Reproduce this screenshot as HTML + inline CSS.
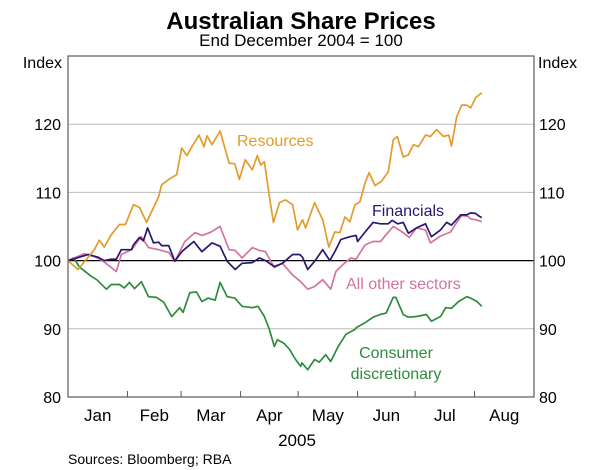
<!DOCTYPE html>
<html><head><meta charset="utf-8"><style>
html,body{margin:0;padding:0;background:#fff;}
svg{display:block;font-family:"Liberation Sans",Arial,sans-serif;}
</style></head><body>
<svg id="chart" width="600" height="470" viewBox="0 0 600 470">
<text x="301" y="29" text-anchor="middle" font-size="24" font-weight="bold">Australian Share Prices</text>
<text x="301" y="46" text-anchor="middle" font-size="17">End December 2004 = 100</text>
<text x="62" y="68" text-anchor="end" font-size="16">Index</text>
<text x="538" y="68" font-size="16">Index</text>
<g id="grid"></g>
<g id="axes"></g>
<g id="series"></g>
<rect x="68" y="56" width="466" height="341" fill="none" stroke="#666" stroke-width="1.3"/>
<text x="237" y="146" font-size="16" fill="#e39b2b">Resources</text>
<text x="372" y="216" font-size="16" fill="#2a1670">Financials</text>
<text x="346" y="289" font-size="16" fill="#d4739f">All other sectors</text>
<text x="396" y="358" text-anchor="middle" font-size="16" fill="#2e8b3e">Consumer</text>
<text x="396" y="379" text-anchor="middle" font-size="16" fill="#2e8b3e">discretionary</text>
<text x="297" y="446" text-anchor="middle" font-size="17">2005</text>
<text x="68" y="464" font-size="14">Sources: Bloomberg; RBA</text>
</svg>
<script>
const yTicks=[80,90,100,110,120];
const monthLabels=["Jan","Feb","Mar","Apr","May","Jun","Jul","Aug"];
const monthStarts=[0,31,59,90,120,151,181,212,243];
const resDays=[0,5.2,13.7,16.3,18.9,22.6,26.8,30,34.1,37.3,41,47.3,48.8,52.5,56.7,59.3,62,64.6,68.3,70.9,72.5,75.1,79.3,84,87,89.3,92.4,96.1,98.7,100.5,102.4,105,107.1,110.3,113.4,117.1,119.7,122.3,123.9,128.6,132.8,136,139.1,141.8,144.4,147,149.6,152.2,154.9,157,160.1,163.3,167,169.6,171.7,174.8,177.5,180.1,182.7,186.4,189,192.2,195.8,198.5,200,202.7,205.3,207.9,210,212.6,215.8];
const resVals=[100,98.7,101.6,103,102,103.8,105.3,105.3,108.2,107.8,105.6,109.4,111.1,111.9,112.6,116.5,115.4,116.7,118.4,116.7,118.3,117,119,114.3,114.2,111.9,114.8,113.3,115.4,114,114.5,109.4,105.6,108.5,108.9,108.2,104.5,106,104.8,108.5,106,102,104.2,104.1,106.4,105.7,108.2,108.6,111.4,112.9,111,111.6,113,117.7,118.2,115.2,115.5,117,116.7,118.4,118.2,119.2,118.2,118.4,116.8,121.1,122.8,122.8,122.4,123.9,124.6];
const finDays=[0,10.5,15.7,18.9,22.6,25.2,27.8,33.1,34.1,37.3,39.3,41.5,44.6,47.3,48.8,52.5,55.7,59.3,65.6,69.8,75.1,79.3,83,87.2,90.8,96.1,99.8,103,107.6,111.8,117.1,120.8,122.3,125,128.6,132.8,136.5,139.1,142.3,147,150.2,151,154.9,159.1,163,167,169,172,174.8,177.5,181.7,186.4,189.5,194.3,197.4,200,204.8,207.9,210,212.6,214.5,215.8];
const finVals=[100,100.9,100.5,100,100.2,100.2,101.6,101.6,102.3,103.4,102.9,104.8,102.6,102.7,102.2,102.2,99.9,101.3,102.8,101.3,102.6,102.1,99.9,98.7,99.6,99.7,100.4,100,99.1,99.6,100.9,100.9,100.5,98.7,99.9,101.6,100,101.3,103.1,103.5,103.7,102.8,104.2,105.6,105.4,105.4,105.9,105.4,105.6,104,104.8,105.4,103.5,104.5,105.6,105.2,106.7,106.7,107,106.9,106.5,106.3];
const othDays=[0,8.4,13.7,18.4,25.2,27.8,33.1,38.3,42,47.3,52.5,55.7,60.9,66.2,69.8,74,79.3,84,87.2,90.8,96.1,99.8,103,107.6,111.8,117.1,121.3,125,128.6,132.8,137,139.7,143.3,147.5,150.2,154.9,159.1,163,165.9,169.6,173.8,178,181.7,186.4,189,194.3,199.5,202.7,205.3,208.5,210,212.6,215.8];
const othVals=[100,101,100.6,99.9,98.4,100.9,101.6,103.5,101.9,101.6,101.2,99.9,102.8,104.1,103.7,104.1,105,101.6,101.5,100.4,101.9,101.5,101.3,99,99.6,97.9,96.9,95.8,96.2,97.2,95.8,98.4,99.4,100.4,100.2,102.3,102.8,102.8,103.8,105,104.3,103.4,104.8,104.5,102.6,103.6,104.2,105.6,106.6,106.5,106.1,106,105.7];
const conDays=[0,3.1,5.8,12.1,15,20,22.6,26.8,29.4,32,34.7,38.3,42,46.2,49.9,54.1,58.3,60,63.5,67,69.8,73,76.7,79.3,83,87,90.8,96.1,99,102.4,105,107.6,109.2,112.5,115.5,118.7,121.3,122,125,128.6,131,134.4,137,140.7,144.9,149.6,150.5,154.9,159.1,162.8,165.9,169.6,171,174.8,177.5,181.7,186.9,189.5,194.3,196.9,200,203.7,207.9,210,213.2,215.8];
const conVals=[100,100.4,99.1,97.7,97.2,95.8,96.5,96.5,96,96.8,95.9,96.9,94.7,94.6,93.9,91.8,93.1,92.4,95.3,95.4,94,94.5,94.2,96.8,94.7,94.5,93.3,93.1,93.3,91.8,89.9,87.4,88.4,87.9,87,85.5,84.5,85,84,85.5,85.1,86.2,85.2,87.3,89.2,89.9,90.2,90.9,91.7,92.1,92.3,94.6,94.6,92.1,91.7,91.8,92.1,91.1,91.8,93.1,93,94,94.7,94.5,94,93.3];

const NS="http://www.w3.org/2000/svg";
const L=68,R=534,T=56,B=397,D0=0,D1=243,V0=80,V1=130;
function xs(d){return L+(d-D0)/(D1-D0)*(R-L);}
function ys(v){return B-(v-V0)/(V1-V0)*(B-T);}
function mk(tag,attrs,parent){const e=document.createElementNS(NS,tag);for(const k in attrs)e.setAttribute(k,attrs[k]);parent.appendChild(e);return e;}
const grid=document.getElementById('grid'),axes=document.getElementById('axes'),ser=document.getElementById('series');
yTicks.forEach(v=>{
  if(v>V0&&v!==100){const g=mk('line',{x1:L,x2:R,y1:ys(v),y2:ys(v),stroke:'#bbb','stroke-width':1},grid);
  
  }
  const t1=mk('text',{x:L-7,y:ys(v)+6,'text-anchor':'end','font-size':16},axes);t1.textContent=v;
  
  
  const t2=mk('text',{x:R+5,y:ys(v)+6,'font-size':16},axes);t2.textContent=v;
  
  
});
const base=mk('line',{x1:L,x2:R,y1:ys(100),y2:ys(100),stroke:'#000','stroke-width':1.2},grid);


monthStarts.forEach((d,i)=>{
  if(i>0&&i<monthStarts.length-1){const tk=mk('line',{x1:xs(d),x2:xs(d),y1:B,y2:B-6,stroke:'#555','stroke-width':1},axes);
  
  }
  if(i<monthLabels.length){const t=mk('text',{x:(xs(d)+xs(monthStarts[i+1]))/2,y:421,'text-anchor':'middle','font-size':17},axes);t.textContent=monthLabels[i];
  
  }
});
function line(days,vals,color,name){
  const p=mk('polyline',{points:days.map((d,i)=>xs(d).toFixed(1)+','+ys(vals[i]).toFixed(1)).join(' '),fill:'none',stroke:color,'stroke-width':1.7,'stroke-linejoin':'round'},ser);
  
  
}
line(conDays,conVals,'#2e8b3e','consumer-discretionary-line');
line(othDays,othVals,'#d4739f','all-other-sectors-line');
line(finDays,finVals,'#2a1670','financials-line');
line(resDays,resVals,'#e39b2b','resources-line');
</script>
</body></html>
